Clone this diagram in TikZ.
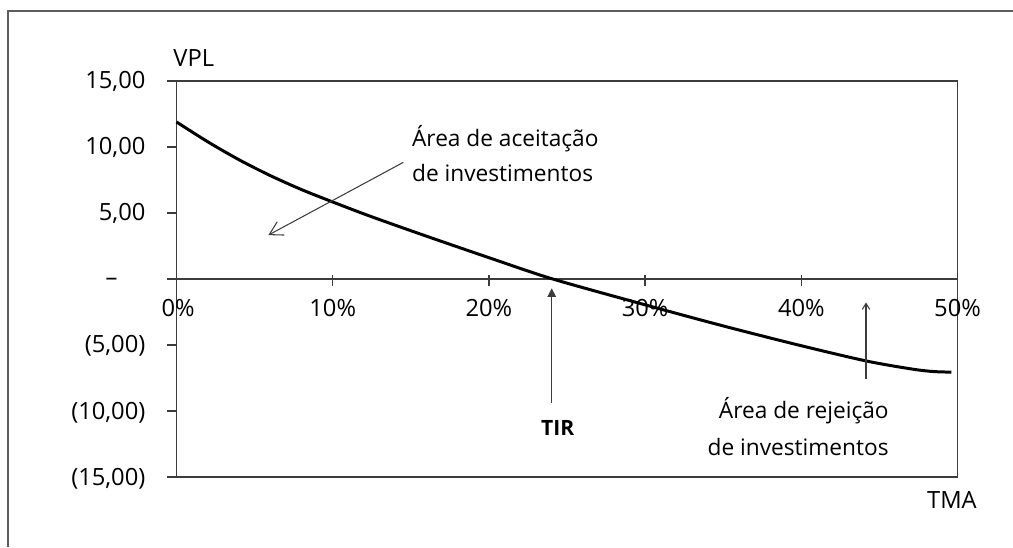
\documentclass[tikz,border=0pt]{standalone}
\usepackage{fontspec}
\setmainfont{Open Sans}
\usetikzlibrary{arrows,arrows.meta}
\definecolor{framegray}{HTML}{5E5E5E}
\definecolor{axisgray}{HTML}{3C3C3C}
\tikzstyle{ylabel} = [anchor=base east, inner sep=0pt, font=\fontsize{13.5}{16}\selectfont]
\tikzstyle{xlabel} = [anchor=base, inner sep=0pt, font=\fontsize{13.5}{16}\selectfont]
\tikzstyle{note} = [inner sep=0pt, font=\fontsize{12.9}{19.9}\selectfont]
\tikzstyle{tick} = [draw, axisgray, line width=0.8pt]
\tikzstyle{pointer} = [draw, axisgray, line width=0.6pt]

\begin{document}
\begin{tikzpicture}[x=0.3124cm, y=0.264cm]
    \useasboundingbox (-11.30,-20.30) rectangle (53.55,21.14);
    % outer frame (only left and top edges fall inside the page)
    \coordinate (fbl) at (-10.79,-20.30);
    \coordinate (ftl) at (-10.79,20.30);
    \coordinate (ftr) at (53.55,20.30);
    \draw[framegray, line width=1pt] (fbl) -- (ftl) -- (ftr);
    % plot box and zero line
    \draw[tick] (0,-15) rectangle (50,15);
    \draw[tick] (0,0) -- (50,0);
    % y ticks
    \draw[tick] (-0.6,15) -- (0,15);
    \draw[tick] (-0.6,10) -- (0,10);
    \draw[tick] (-0.6,5) -- (0,5);
    \draw[tick] (-0.6,0) -- (0,0);
    \draw[tick] (-0.6,-5) -- (0,-5);
    \draw[tick] (-0.6,-10) -- (0,-10);
    \draw[tick] (-0.6,-15) -- (0,-15);
    % x ticks
    \draw[tick] (10,0.3) -- (10,-0.55);
    \draw[tick] (20,0.3) -- (20,-0.55);
    \draw[tick] (30,0.3) -- (30,-0.55);
    \draw[tick] (40,0.3) -- (40,-0.55);
    % y labels
    \node[ylabel] (y15) at (-1.97,14.42) {15,00};
    \node[ylabel] (y10) at (-1.97,9.47) {10,00};
    \node[ylabel] (y5) at (-1.97,4.45) {5,00};
    \node[ylabel] (y0) at (-3.75,-0.45) {–};
    \node[ylabel] (ym5) at (-1.97,-5.6) {(5,00)};
    \node[ylabel] (ym10) at (-1.97,-10.6) {(10,00)};
    \node[ylabel] (ym15) at (-1.97,-15.6) {(15,00)};
    % x labels
    \node[xlabel] (x0) at (0.1,-2.86) {0\%};
    \node[xlabel] (x10) at (10,-2.86) {10\%};
    \node[xlabel] (x20) at (20,-2.86) {20\%};
    \node[xlabel] (x30) at (30,-2.86) {30\%};
    \node[xlabel] (x40) at (40,-2.86) {40\%};
    \node[xlabel] (x50) at (50,-2.86) {50\%};
    % axis names
    \node[ylabel, anchor=base west] (vpl) at (-0.22,16.08) {VPL};
    \node[ylabel, anchor=base east] (tma) at (51.25,-17.37) {TMA};
    % NPV curve
    \draw[black, line width=1.7pt] plot[smooth, tension=0.5] coordinates {
        (0,11.9) (2,10.4) (4,9.04) (6,7.84) (8,6.78) (10,5.84) (12.4,4.76) (16,3.25)
        (20.3,1.5) (24.1,0) (30,-1.95) (35,-3.55) (40,-5.05) (44.14,-6.2) (47,-6.8)
        (48.4,-7.0) (49.6,-7.05)};
    % notes
    \node[note, anchor=base west] (accept1) at (15.06,10.02) {Área de aceitação};
    \node[note, anchor=base west] (accept2) at (15.06,7.37) {de investimentos};
    \node[note, anchor=base east] (reject1) at (45.61,-10.55) {Área de rejeição};
    \node[note, anchor=base east] (reject2) at (45.61,-13.33) {de investimentos};
    \node[note, anchor=base, font=\fontsize{12}{15}\selectfont\bfseries] (tir) at (24.4,-11.87) {TIR};
    % pointers
    \coordinate (acceptfrom) at (14.52,8.84);
    \coordinate (acceptto) at (5.88,3.33);
    \coordinate (tirfrom) at (24.02,-9.37);
    \coordinate (tirto) at (24.02,-0.70);
    \coordinate (rejectfrom) at (44.14,-7.6);
    \coordinate (rejectto) at (44.14,-1.77);
    \path[pointer, -{Straight Barb[length=2.6mm, width=3mm]}] (acceptfrom) -- (acceptto);
    \path[pointer, -{Triangle[length=1.7mm, width=1.7mm]}] (tirfrom) -- (tirto);
    \path[pointer, -{Straight Barb[length=1.2mm, width=1.5mm]}] (rejectfrom) -- (rejectto);
\end{tikzpicture}
\end{document}
